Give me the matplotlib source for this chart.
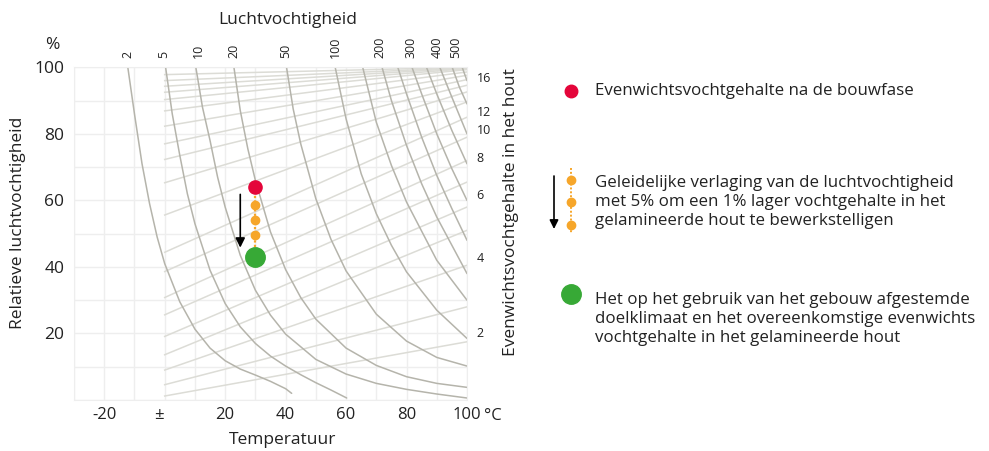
import matplotlib
matplotlib.use("Agg")
import matplotlib.pyplot as plt
from matplotlib.transforms import ScaledTranslation

plt.rcParams['font.family'] = ['Open Sans', 'DejaVu Sans']

# absolute humidity curves (g/m3) as (temperature, RH) points
hum_levels = [2, 5, 10, 20, 50, 100, 150, 200, 250, 300, 350, 400, 450, 500]
hum_T = [
    [-12.2, -10, -7.5, -5, -2.5, 0, 5, 10, 15, 20, 25, 30, 35, 40, 42],
    [0.3, 2.5, 5, 7.5, 10, 15, 20, 25, 30, 35, 40, 45, 50, 55, 60.2],
    [10.3, 12.5, 15, 17.5, 20, 25, 30, 35, 40, 50, 60, 70, 80, 90, 100],
    [22.9, 25, 27.5, 30, 35, 40, 45, 50, 60, 70, 80, 90, 100],
    [40.3, 42.5, 45, 50, 55, 60, 70, 80, 90, 100],
    [56.4, 60, 65, 70, 75, 80, 90, 100],
    [65.5, 70, 75, 80, 90, 100],
    [71.9, 75, 80, 85, 90, 100],
    [77.1, 80, 85, 90, 95, 100],
    [81.8, 85, 90, 95, 100],
    [86.6, 90, 95, 100],
    [91.0, 95, 100],
    [95.1, 97.5, 100],
    [98.4, 100],
]
hum_RH = [
    [100, 86, 71, 59, 49, 41, 29.5, 21.3, 15.6, 11.8, 9.3, 7.5, 5.6, 3.4, 2.0],
    [100, 86, 73.5, 62, 53, 39, 29, 22, 17, 13.2, 10.2, 7.6, 5.2, 3.0, 0.6],
    [100, 88, 78, 67, 58, 43.5, 33, 25.5, 19.8, 12.2, 7.8, 5.0, 3.2, 1.8, 0.6],
    [100, 87, 75.5, 66, 50.5, 39.2, 30.8, 24.3, 15.6, 10.4, 7.0, 5.0, 3.8],
    [100, 87.5, 77, 60.5, 48.3, 38.8, 25.8, 17.7, 12.8, 10.2],
    [100, 84.5, 68, 56, 46.5, 38.5, 27, 18.5],
    [100, 83.5, 70.5, 59.5, 42, 30],
    [100, 90, 76.5, 65, 55, 38],
    [100, 92, 79, 67.5, 57.5, 48],
    [100, 92, 80, 69.5, 60],
    [100, 92, 81, 71],
    [100, 91, 80],
    [100, 94, 89],
    [100, 96],
]
top_tick_pos = [-12.3, -0.3, 11, 22.9, 40.1, 56.4, 71.3, 81.6, 90.2, 96.2]
top_tick_lab = ['2', '5', '10', '20', '50', '100', '200', '300', '400', '500']

# equilibrium moisture content lines: RH at 0 degC and at 100 degC
emc_rh_start = [1.2, 4.6, 9.0, 13.6, 19.1, 25.6, 30.8, 38.6, 44.4, 55.6,
                65.3, 72.3, 77.0, 82.3, 86.9, 90.3, 92.5, 94.3, 96.0, 97.8]
emc_rh_end = [17.5, 28, 40.5, 51, 58, 65.5, 72, 79, 85, 89.6,
              92.6, 94.6, 96.3, 97.6, 98.6, 99.3, 99.6, 99.8, 99.9, 100]
emc_tick_pos = [20.4, 42.9, 61.8, 73, 81.4, 86.8, 97]
emc_tick_lab = ['2', '4', '6', '8', '10', '12', '16']

# path of the climate
step_T = 30
start_rh = 64
step_rh = [58.5, 54, 49.5]
target_rh = 43
arrow_T = 25
arrow_rh = (61.8, 45.8)

x_ticks = [-20, 0, 20, 40, 60, 80, 100]
x_labels = ['-20', '±', '20', '40', '60', '80', '100']
y_ticks = [20, 40, 60, 80, 100]

RED = '#e4053a'
ORANGE = '#f6a62a'
GREEN = '#37a936'
DARK = '#b5b4ab'
LIGHT = '#dcdcd6'
GRID = '#eeeeee'
TXT = '#222222'

fig = plt.figure(figsize=(9.89, 4.51), dpi=100)
W, H = 989, 451
ax = fig.add_axes([74 / W, 1 - 400 / H, (467 - 74) / W, (400 - 67.3) / H])
ax.set_xlim(-30, 100)
ax.set_ylim(0, 100)

ax.set_xticks(range(-30, 101, 10), minor=True)
ax.set_yticks(range(0, 101, 10), minor=True)
ax.set_xticks(x_ticks)
ax.set_xticklabels(x_labels)
ax.set_yticks(y_ticks)
ax.grid(which='both', color=GRID, lw=1.0, zorder=0)
ax.tick_params(which='both', length=0, labelsize=12, colors=TXT, pad=5)
ax.tick_params(axis='y', labelsize=12.5, pad=7)
for s in ax.spines.values():
    s.set_color(GRID)
ax.set_axisbelow(True)

# the "±" label sits a little left of its tick
pm = ax.get_xticklabels()[1]
pm.set_transform(pm.get_transform() + ScaledTranslation(-0.06, 0, fig.dpi_scale_trans))

for a, b in zip(emc_rh_start, emc_rh_end):
    ax.plot([0, 100], [a, b], color=LIGHT, lw=1.1, zorder=1)

for t, rh in zip(hum_T, hum_RH):
    ax.plot(t, rh, color=DARK, lw=1.1, zorder=2, solid_capstyle='round')

ax.annotate('°C', xy=(100, 0), xytext=(12.5, -5.5), textcoords='offset points',
            ha='left', va='top', fontsize=12, color=TXT)

# top axis: humidity labels
top = ax.secondary_xaxis('top')
top.set_xticks(top_tick_pos)
top.set_xticklabels(top_tick_lab, rotation=90, fontsize=9)
top.tick_params(length=0, pad=7, colors=TXT)
top.spines['top'].set_visible(False)

# right axis: moisture content labels
right = ax.secondary_yaxis('right')
right.set_yticks(emc_tick_pos)
right.set_yticklabels(emc_tick_lab, fontsize=9)
right.tick_params(length=0, pad=7, colors=TXT)
right.spines['right'].set_visible(False)

# climate path
ax.plot([step_T] * 5, [start_rh] + step_rh + [target_rh], color=ORANGE,
        lw=1.6, ls=(0, (1, 1)), zorder=3)
ax.plot([step_T] * 3, step_rh, 'o', color=ORANGE, ms=6, zorder=4)
ax.plot(step_T, start_rh, 'o', color=RED, ms=9.5, zorder=5)
ax.plot(step_T, target_rh, 'o', color=GREEN, ms=14, zorder=5)
ax.annotate('', xy=(arrow_T, arrow_rh[1]), xytext=(arrow_T, arrow_rh[0]),
            arrowprops=dict(arrowstyle='-|>', color='black', lw=1.2,
                            mutation_scale=14, shrinkA=0, shrinkB=0), zorder=6)

# axis titles
fig.text(288 / W, 1 - 20 / H, 'Luchtvochtigheid', ha='center', va='center', fontsize=12.5, color=TXT)
fig.text(283 / W, 1 - 440 / H, 'Temperatuur', ha='center', va='center', fontsize=12.5, color=TXT)
fig.text(52 / W, 1 - 45 / H, '%', ha='center', va='center', fontsize=12.5, color=TXT)
fig.text(18 / W, 1 - 223 / H, 'Relatieve luchtvochtigheid', rotation=90, ha='center', va='center',
         fontsize=12.5, color=TXT)
fig.text(511 / W, 1 - 212 / H, 'Evenwichtsvochtgehalte in het hout', rotation=90, ha='center',
         va='center', fontsize=12.5, color=TXT)

# legend
lax = fig.add_axes([0, 0, 1, 1])
lax.set_xlim(0, W)
lax.set_ylim(H, 0)
lax.axis('off')
lax.plot(571, 91, 'o', color=RED, ms=9)
lax.plot([571, 571], [168, 234], color=ORANGE, lw=1.4, ls=(0, (1, 1)))
lax.plot([571, 571, 571], [180, 202, 225], 'o', color=ORANGE, ms=6)
lax.annotate('', xy=(554, 229), xytext=(554, 176),
             arrowprops=dict(arrowstyle='-|>', color='black', lw=1.2, mutation_scale=13,
                             shrinkA=0, shrinkB=0))
lax.plot(571, 294, 'o', color=GREEN, ms=14)

legend_text = [
    (91, 'Evenwichtsvochtgehalte na de bouwfase'),
    (202, 'Geleidelijke verlaging van de luchtvochtigheid\nmet 5% om een 1% lager vochtgehalte in het\ngelamineerde hout te bewerkstelligen'),
    (319, 'Het op het gebruik van het gebouw afgestemde\ndoelklimaat en het overeenkomstige evenwichts\nvochtgehalte in het gelamineerde hout'),
]
for y, s in legend_text:
    lax.text(595, y, s, ha='left', va='center', fontsize=12.2, color=TXT, linespacing=1.28)

fig.savefig('out.png', dpi=100)
